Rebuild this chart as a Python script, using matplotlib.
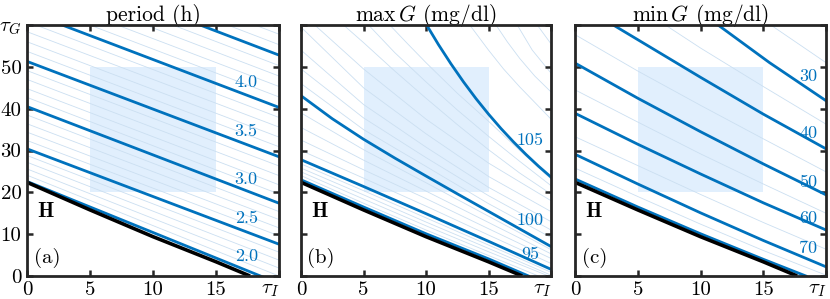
import numpy as np
import matplotlib
matplotlib.use('Agg')
import matplotlib.pyplot as plt
from matplotlib.patches import Rectangle

# Hopf boundary (same in every panel)
hopf_x = [0, 5, 10, 15, 17.7]
hopf_y = [22.4, 15.8, 9.4, 3.4, 0.0]

# shaded box of physiological values
box_x = [5, 15]
box_y = [20, 50]

# (a) period: straight contours, given by tau_G at tau_I=0 and tau_I=20
period_major_y0 = [22.6, 30.4, 40.5, 51.3, 63.2, 75.8]
period_major_y20 = [-1.8, 7.6, 17.4, 28.5, 40.3, 52.8]
period_minor_y0 = [24.1, 25.6, 27.2, 28.8,
                   32.4, 34.4, 36.4, 38.5,
                   42.7, 44.8, 47.0, 49.1,
                   53.7, 56.0, 58.4, 60.8,
                   65.7, 68.2, 70.8, 73.3,
                   78.3, 80.8, 83.3]
period_minor_y20 = [0.0, 1.9, 3.8, 5.7,
                    9.6, 11.5, 13.5, 15.4,
                    19.6, 21.8, 24.0, 26.3,
                    30.9, 33.2, 35.6, 37.9,
                    42.8, 45.3, 47.8, 50.3,
                    55.3, 57.8, 60.3]
period_labels = ['2.0', '2.5', '3.0', '3.5', '4.0']
period_label_y = [4.6, 13.8, 23.2, 34.7, 46.4]

# (b) max G contours (points along each curve)
maxg_major_x = [[0, 5, 10, 15, 18.2],
                [0, 5, 10, 15, 20],
                [0, 2.5, 5, 7.5, 10, 12.5, 15, 17.5, 20],
                [10.05, 11, 12, 13, 14, 15, 16, 17, 18, 19, 20]]
maxg_major_y = [[23.0, 16.5, 10.1, 4.1, 0.0],
                [27.8, 21.4, 14.9, 8.3, 1.6],
                [43.1, 37.6, 32.7, 28.2, 23.9, 19.65, 15.45, 11.25, 7.05],
                [60.0, 55.3, 50.7, 46.4, 42.4, 38.7, 35.25, 32.05, 29.05, 26.25, 23.65]]
maxg_minor_x = [[0, 5, 10, 15, 19.0],
                [0, 5, 10, 15, 19.8],
                [0, 5, 10, 15, 20],
                [0, 5, 10, 15, 20],
                [0, 5, 10, 15, 20],
                [0, 5, 10, 15, 20],
                [0, 5, 10, 15, 20],
                [0, 5, 10, 15, 20],
                [0, 5, 10, 15, 20],
                [0, 5, 10, 15, 20],
                [0, 5, 10, 15, 20],
                [0, 5, 10, 15, 20],
                [1.1, 5, 10, 15, 20],
                [3.4, 5, 7.5, 10, 12.5, 15, 17.5, 20],
                [5.4, 7.5, 10, 12.5, 15, 17.5, 20],
                [7.1, 8.5, 10, 12.5, 15, 17.5, 20],
                [13.5, 15, 16.2, 17.5, 18.8, 20],
                [15.6, 16.5, 17.5, 18.7, 20],
                [17.3, 18.5, 20],
                [18.9, 20]]
maxg_minor_y = [[24.0, 17.4, 11.0, 4.9, 0.0],
                [24.9, 18.4, 12.0, 5.8, 0.0],
                [25.8, 19.4, 12.9, 6.6, 0.2],
                [26.8, 20.4, 13.9, 7.4, 0.9],
                [30.0, 23.4, 16.7, 9.8, 3.0],
                [32.5, 25.4, 18.5, 11.3, 4.2],
                [35.5, 27.7, 20.3, 12.8, 5.3],
                [39.0, 30.2, 22.3, 14.3, 6.3],
                [46.0, 35.0, 26.2, 17.3, 9.2],
                [49.5, 37.8, 28.3, 19.2, 11.0],
                [54.0, 41.0, 30.8, 21.2, 13.0],
                [59.5, 45.0, 34.0, 23.8, 15.4],
                [60.0, 49.5, 37.5, 27.0, 18.0],
                [60.0, 55.8, 49.0, 42.5, 36.2, 30.2, 24.6, 19.6],
                [60.0, 53.4, 46.4, 39.7, 33.4, 27.4, 21.6],
                [60.0, 55.6, 51.0, 43.7, 37.0, 30.0, 23.2],
                [60.0, 54.0, 49.5, 45.2, 41.2, 37.5],
                [60.0, 56.0, 52.0, 47.8, 44.0],
                [60.0, 54.0, 48.5],
                [60.0, 55.5]]
maxg_labels = ['95', '100', '105']
maxg_label_y = [5.2, 13.4, 32.5]

# (c) min G contours
ming_major_x = [[11.4, 15.5, 20],
                [3.05, 10, 15, 20],
                [0, 5, 10, 15, 20],
                [0, 5, 10, 15, 20],
                [0, 5, 10, 15, 20],
                [0, 5, 10, 15, 18.4]]
ming_major_y = [[60.0, 51.0, 41.9],
                [60.0, 47.5, 38.7, 30.4],
                [50.9, 42.5, 34.5, 26.8, 19.4],
                [38.9, 31.5, 24.4, 17.5, 11.0],
                [29.1, 22.0, 15.1, 8.5, 2.2],
                [23.2, 16.5, 10.1, 4.0, 0.0]]
ming_minor_x = [[15.6, 20],
                [7.2, 10, 15, 20],
                [0, 5, 10, 15, 20],
                [0, 5, 10, 15, 20],
                [0, 5, 10, 15, 20],
                [0, 5, 10, 15, 20]]
ming_minor_y = [[60.0, 51.0],
                [60.0, 54.5, 45.3, 36.3],
                [57.7, 49.0, 40.8, 32.8, 24.9],
                [44.5, 36.8, 29.2, 22.0, 15.0],
                [33.3, 26.4, 19.5, 12.8, 6.4],
                [25.8, 19.0, 12.4, 6.1, 0.2]]
ming_labels = ['30', '40', '50', '60', '70']
ming_label_y = [47.8, 34.1, 22.4, 13.8, 6.6]

blue = '#0072bd'
thin = '#cbdff1'
frame = '#262626'

plt.rcParams['font.family'] = 'cmr10'
plt.rcParams['mathtext.fontset'] = 'cm'
plt.rcParams['axes.formatter.use_mathtext'] = True

fig = plt.figure(figsize=(8.3, 2.99), dpi=100)
lefts = [27, 301, 575]
rights = [279, 551, 826]
axs = [fig.add_axes([l / 830, 1 - 276 / 299, (r - l) / 830, 251 / 299]) for l, r in zip(lefts, rights)]

titles = ['period (h)', r'$\max\,G$ (mg/dl)', r'$\min\,G$ (mg/dl)']
tags = ['(a)', '(b)', '(c)']

for i, ax in enumerate(axs):
    ax.add_patch(Rectangle((box_x[0], box_y[0]), box_x[1] - box_x[0], box_y[1] - box_y[0],
                           facecolor='#e1effd', edgecolor='none', zorder=0))
    ax.set_xlim(0, 20)
    ax.set_ylim(0, 60)
    ax.set_xticks([0, 5, 10, 15, 20])
    ax.set_xticklabels(['0', '5', '10', '15', r'$\tau_I$'])
    ax.get_xticklabels()[-1].set_ha('right')
    ax.set_yticks([0, 10, 20, 30, 40, 50, 60])
    if i == 0:
        ax.set_yticklabels(['0', '10', '20', '30', '40', '50', r'$\tau_G$'])
    else:
        ax.set_yticklabels([])
    ax.tick_params(direction='in', top=True, right=True, length=4, width=1.8,
                   color=frame, labelsize=15, pad=4)
    for s in ax.spines.values():
        s.set_linewidth(2.0)
        s.set_color(frame)
        s.set_zorder(10)
    ax.set_title(titles[i], fontsize=15.5, pad=3)
    ax.text(1.5, 15.4, r'$\mathbf{H}$', fontsize=15, ha='center', va='center')
    ax.text(1.6, 4.2, tags[i], fontsize=15, ha='center', va='center')

# (a)
ax = axs[0]
for y0, y20 in zip(period_minor_y0, period_minor_y20):
    ax.plot([0, 20], [y0, y20], color=thin, lw=0.6, zorder=1)
for y0, y20 in zip(period_major_y0, period_major_y20):
    ax.plot([0, 20], [y0, y20], color=blue, lw=2.0, zorder=2)
for lab, y in zip(period_labels, period_label_y):
    ax.text(17.4, y, lab, color=blue, fontsize=13, ha='center', va='center')

# (b)
ax = axs[1]
for xs, ys in zip(maxg_minor_x, maxg_minor_y):
    ax.plot(xs, ys, color=thin, lw=0.6, zorder=1)
for xs, ys in zip(maxg_major_x, maxg_major_y):
    ax.plot(xs, ys, color=blue, lw=2.0, zorder=2)
for lab, y in zip(maxg_labels, maxg_label_y):
    ax.text(18.3, y, lab, color=blue, fontsize=13, ha='center', va='center')

# (c)
ax = axs[2]
for xs, ys in zip(ming_minor_x, ming_minor_y):
    ax.plot(xs, ys, color=thin, lw=0.6, zorder=1)
for xs, ys in zip(ming_major_x, ming_major_y):
    ax.plot(xs, ys, color=blue, lw=2.0, zorder=2)
for lab, y in zip(ming_labels, ming_label_y):
    ax.text(18.6, y, lab, color=blue, fontsize=13, ha='center', va='center')

for ax in axs:
    ax.plot(hopf_x, hopf_y, color='black', lw=2.6, zorder=3, solid_capstyle='butt')

fig.savefig('out.png', dpi=100)
